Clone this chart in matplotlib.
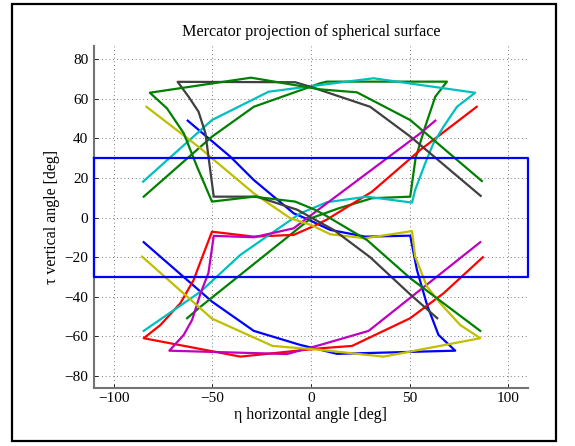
import matplotlib
matplotlib.use("Agg")
import matplotlib.pyplot as plt
from matplotlib.patches import Rectangle

plt.rcParams['font.family'] = ['Liberation Serif', 'DejaVu Serif']
plt.rcParams['mathtext.fontset'] = 'stix'

# ---- data ----
gray_x = [86, 50.3, 30, 0, -8, -67.6, -62, -57, -53.5, -52, -49.3, -27.4, -7, 2, 11.5, 30, 50, 64]
gray_y = [11, 41, 56, 66, 68.4, 68.6, 61, 53.5, 42.6, 31, 10.6, 10.6, 4, -1, -6.2, -20, -38.5, -50.8]

greenB_x = [-84.8, -50.2, -29, 4.7, 8, 68.9, 63, 57.9, 53, 50.3, 30.9, 14, 0, -56, -62.8]
greenB_y = [10.6, 40.9, 56, 67.9, 68.7, 68.7, 61.1, 46, 30, 10.6, 9.8, 4.7, -0.3, -45, -50.8]

greenA_x = [86.6, 50.3, 23.3, 4.7, -30.4, -81.7, -73, -64.5, -57.8, -50.2, -29, -8, 2.2, 7.2, 28.4, 50.3, 85.8]
greenA_y = [18.5, 49.3, 63.3, 64.8, 70.7, 63.1, 55.2, 42.6, 25.8, 8.1, 10.6, 8.1, 3.9, 1.2, -11.3, -30.6, -57.2]

cyan_x = [-85.1, -50.2, -21.5, 4.7, 31.7, 83.2, 74, 67.2, 62.1, 57.9, 52.8, 51.2, 28.4, 8.1, -5.4, -35.8, -56, -84.8]
cyan_y = [18.2, 49.3, 63.6, 67, 70.4, 63.1, 56, 46, 37.6, 27.5, 14, 7.6, 10.6, 7.8, 2.2, -18.8, -37.4, -57.2]

red_x = [84, 55.4, 30.9, 8, 2, -8.8, -29, -50.2, -56, -59.5, -66.2, -76.3, -84.8, -35.8, 4.7, 20.8, 50.3, 67.2, 87.1]
red_y = [56, 34.2, 13.1, -1, -4, -8.7, -9.6, -7.1, -22.2, -31.5, -43.2, -54.2, -60.9, -70.2, -66, -64.8, -50.8, -38.2, -20]

mag_x = [63, 55.4, -3, -8.8, -29, -49.3, -52, -56, -60.3, -64.5, -71.8, -12.2, 4.7, 29.2, 85.8]
mag_y = [49, 42.6, -1, -5.4, -9.9, -9.2, -28, -38.2, -51.7, -59.2, -67.2, -68.9, -64.3, -57.2, -12.4]

yel_x = [-83.4, -56, -50.2, -29, -10.5, 0, 9.8, 27.5, 51.2, 52.8, 58.8, 65.5, 75.6, 85.8, 36.8, 4.7, -19.5, -50.2, -85.6]
yel_y = [56, 35, 30, 12.3, -0.3, -3.7, -8.4, -10.4, -6.8, -19.7, -34.8, -43.2, -54.2, -60.9, -70.2, -66.8, -64.8, -51, -19.7]

blue_x = [-62.5, -40.9, -29, -8.8, -2.9, 9.8, 27.5, 50.3, 53.7, 58.8, 64.6, 73.1, 13.2, -5.4, -29, -50.2, -84.8]
blue_y = [49, 30.8, 19, 2.2, -0.3, -6.2, -9.6, -9.1, -26.4, -44, -59.2, -67.2, -68.8, -64.3, -57.2, -42.4, -12.4]

rect_x = [-110, 110, 110, -110, -110]
rect_y = [30, 30, -30, -30, 30]

xticks = [-100, -50, 0, 50, 100]
yticks = [-80, -60, -40, -20, 0, 20, 40, 60, 80]

# ---- figure ----
fig = plt.figure(figsize=(5.75, 4.46), dpi=100)
ax = fig.add_axes([94/575, 1-388.3/446, 434/575, 342.3/446])

lw = 1.6
cols = {
    'k': (0.25, 0.25, 0.25),
    'g': (0, 0.5, 0),
    'r': (1, 0, 0),
    'c': (0, 0.75, 0.75),
    'm': (0.75, 0, 0.75),
    'y': (0.75, 0.75, 0),
    'b': (0, 0, 1),
}
ax.plot(blue_x, blue_y, color=cols['b'], lw=lw)
ax.plot(greenB_x, greenB_y, color=cols['g'], lw=lw)
ax.plot(red_x, red_y, color=cols['r'], lw=lw)
ax.plot(cyan_x, cyan_y, color=cols['c'], lw=lw)
ax.plot(mag_x, mag_y, color=cols['m'], lw=lw)
ax.plot(yel_x, yel_y, color=cols['y'], lw=lw)
ax.plot(gray_x, gray_y, color=cols['k'], lw=lw)
ax.plot(greenA_x, greenA_y, color=cols['g'], lw=lw)
ax.plot(rect_x, rect_y, color=cols['b'], lw=lw, clip_on=False, zorder=5)

ax.set_xlim(-110, 110)
ax.set_ylim(-86.2, 86.7)
ax.set_xticks(xticks)
ax.set_yticks(yticks)
ax.set_xticklabels([str(v).replace('-', '\u2212') for v in xticks])
ax.set_yticklabels([str(v).replace('-', '\u2212') for v in yticks])
ax.grid(True, color=(0.3, 0.3, 0.3), linestyle=(0, (1, 3.5)), linewidth=0.6)
ax.set_axisbelow(True)
for s in ['top', 'right']:
    ax.spines[s].set_visible(False)
for s in ['left', 'bottom']:
    ax.spines[s].set_color((0.45, 0.45, 0.45))
    ax.spines[s].set_linewidth(1.5)
ax.tick_params(direction='in', length=3, width=0.6, labelsize=11, colors='black',
               top=False, right=False)
ax.tick_params(axis='x', pad=3)
ax.tick_params(axis='y', pad=4)
ax.set_title('Mercator projection of spherical surface', fontsize=11.6, pad=7)
ax.set_xlabel('\u03b7 horizontal angle [deg]', fontsize=11.5, labelpad=1)
ax.set_ylabel('\u03c4 vertical angle [deg]', fontsize=11.5, labelpad=3)

fig.patches.append(Rectangle((12/575, 1-441/446), (556-12)/575, (441-4)/446,
                             transform=fig.transFigure, fill=False,
                             edgecolor='black', lw=1.6))
fig.savefig('out.png', dpi=100)
